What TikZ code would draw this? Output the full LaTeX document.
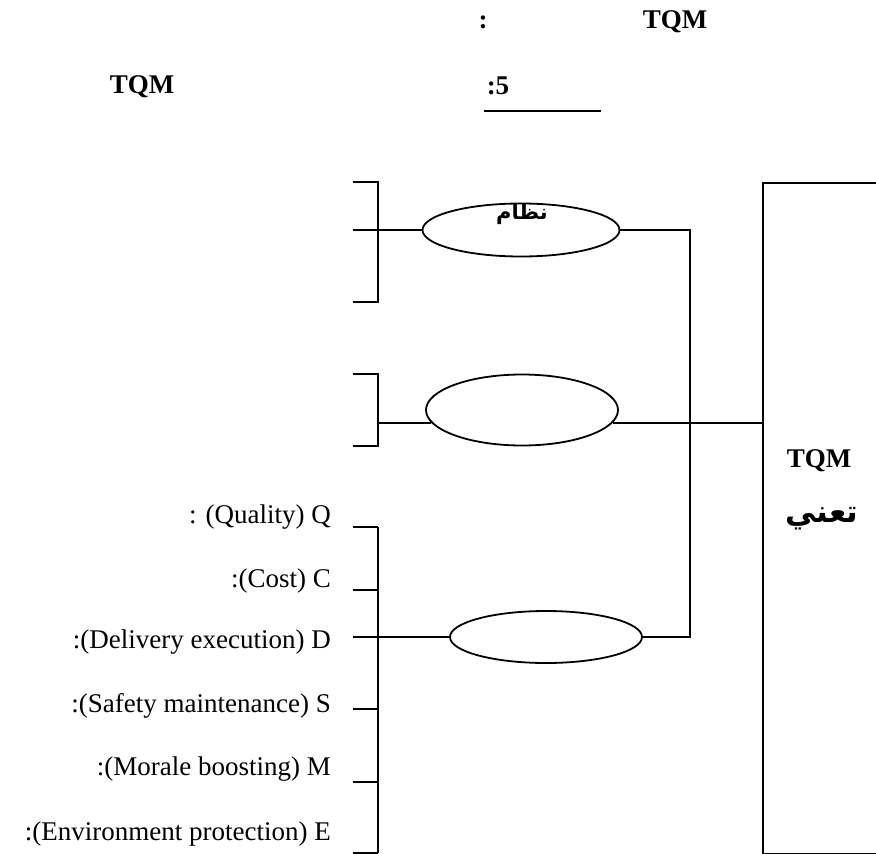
\documentclass[tikz,border=0pt]{standalone}
\usepackage{fontspec}
\setmainfont{Liberation Serif}
\newfontfamily\arabicfont[Script=Arabic]{DejaVu Sans}
\TeXXeTstate=1
\usetikzlibrary{calc, shapes.geometric}

\begin{document}
\begin{tikzpicture}[x=1pt, y=-1pt, line width=1.8pt,
    oval/.style={draw, ellipse, inner sep=0pt},
    lbl/.style={anchor=base east, font=\fontsize{27}{30}\selectfont},
    head/.style={font=\fontsize{27}{30}\selectfont\bfseries},
    arlbl/.style={font=\arabicfont\bfseries}]

    % Page frame
    \useasboundingbox (0,0) rectangle (876,854);

    % Parameters
    \def\brX{378}
    \def\tickX{353}

    % Heading
    \node[head] (colA) at (483,22) {:};
    \node[head] (tqmA) at (675,22) {TQM};
    \node[head] (tqmB) at (142,87) {TQM};
    \node[head] (figNo) at (498,86) {:5};
    \draw (484,111) -- (601,111);

    % Right box
    \node[draw, minimum width=140pt, minimum height=671pt, inner sep=0pt,
        anchor=north west] (tqmBox) at (762,182) {};
    \node[head] (tqmC) at (819,461) {TQM};
    \node[arlbl, font=\arabicfont\bfseries\fontsize{31}{34}\selectfont]
        (means) at (822,519) {\beginR تعني\endR};

    % Ovals
    \node[oval, minimum width=197pt, minimum height=53pt] (sysBox) at (521,230) {};
    \node[oval, minimum width=192pt, minimum height=71pt] (midBox) at (522,410) {};
    \node[oval, minimum width=192pt, minimum height=52pt] (qcdBox) at (546,637) {};
    \node[arlbl, font=\arabicfont\bfseries\fontsize{21}{24}\selectfont]
        (sysTxt) at (522,214) {\beginR نظام\endR};

    % Links to the right box
    \coordinate (jn) at (690,0);
    \draw (sysBox.east) -| (qcdBox.east -| jn) -- (qcdBox.east);
    \draw (midBox.352) -- (midBox.352 -| tqmBox.west);

    % Bracket 1
    \draw (\tickX,182) -- (\brX,182) -- (\brX,302) -- (\tickX,302);
    \draw (\tickX,230) -- (sysBox.west);

    % Bracket 2
    \draw (\tickX,374) -- (\brX,374) -- (\brX,446) -- (\tickX,446);
    \draw (midBox.188) -- (midBox.188 -| \brX,0);

    % Bracket 3
    \draw (\brX,527) -- (\brX,853);
    \foreach \y in {527,590,709,782,853}
        \draw (\tickX,\y) -- (\brX,\y);
    \draw (\tickX,637) -- (qcdBox.west);

    % Item labels
    \foreach \n/\y/\t in {Q/523/{: (Quality) Q}, C/587/{:(Cost) C},
        D/648/{:(Delivery execution) D}, S/712/{:(Safety maintenance) S},
        M/775/{:(Morale boosting) M}, E/840/{:(Environment protection) E}}
        \node[lbl] (lbl\n) at (335,\y) {\t};

\end{tikzpicture}
\end{document}
